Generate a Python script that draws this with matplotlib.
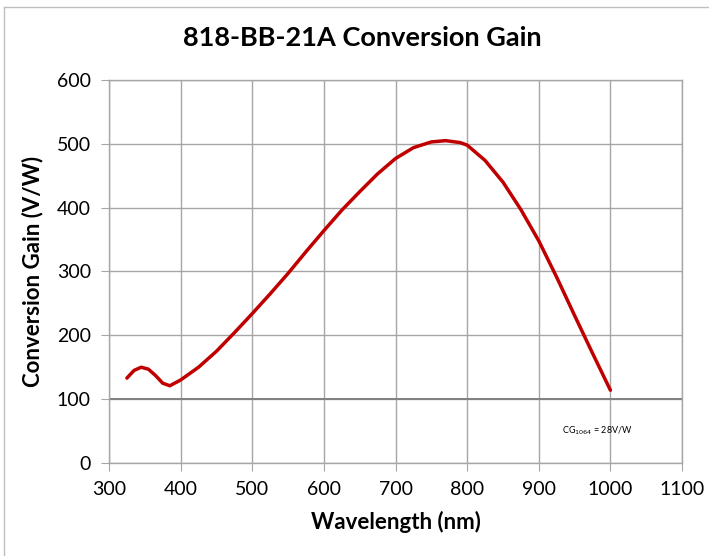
import matplotlib.pyplot as plt
from matplotlib.lines import Line2D

wavelength = [325, 335, 345, 355, 365, 375, 385, 400, 425, 450, 475, 500, 525, 550,
              575, 600, 625, 650, 675, 700, 725, 750, 770, 790, 800, 825, 850, 875,
              900, 925, 950, 975, 1000]
gain = [133, 145, 150, 147, 137, 125, 121, 130, 150, 175, 204, 234, 265, 297,
        331, 364, 396, 425, 453, 477, 494, 503, 505, 502, 498, 474, 440, 397,
        348, 291, 231, 172, 114]

xticks = [300, 400, 500, 600, 700, 800, 900, 1000, 1100]
yticks = [0, 100, 200, 300, 400, 500, 600]

plt.rcParams['font.family'] = ['Lato', 'DejaVu Sans']

fig = plt.figure(figsize=(7.09, 5.56), dpi=100)
ax = fig.add_axes([0.1537, 0.1673, 0.8083, 0.6888])

grid_c = "#a6a6a6"
ax.set_xlim(300, 1100)
ax.set_ylim(0, 600)
ax.set_xticks(xticks)
ax.set_yticks(yticks)
ax.grid(True, color=grid_c, lw=1.0)
ax.axhline(100, color="#808080", lw=1.4, zorder=1)
ax.set_axisbelow(True)
for s in ax.spines.values():
    s.set_color(grid_c)
    s.set_linewidth(1.0)
ax.tick_params(direction="out", length=6, color=grid_c, labelsize=14, pad=7)

ax.plot(wavelength, gain, color="#c00000", lw=2.5, solid_capstyle="round",
        solid_joinstyle="round", zorder=3)

ax.text(932, 50, "CG$_{1064}$ = 28V/W", fontsize=6.5, va="center", ha="left")

ax.set_xlabel("Wavelength (nm)", fontsize=16, fontweight="bold", labelpad=9)
ax.set_ylabel("Conversion Gain (V/W)", fontsize=16, fontweight="bold", labelpad=10)
fig.suptitle("818-BB-21A Conversion Gain", fontsize=19.5, fontweight="bold",
             x=0.511, y=0.953)

# figure frame (top and left edges visible)
fig.add_artist(Line2D([0.006, 1.0], [0.987, 0.987], transform=fig.transFigure,
                      color="#bfbfbf", lw=1))
fig.add_artist(Line2D([0.006, 0.006], [0.0, 0.987], transform=fig.transFigure,
                      color="#bfbfbf", lw=1))

fig.savefig("out.png", dpi=100)
